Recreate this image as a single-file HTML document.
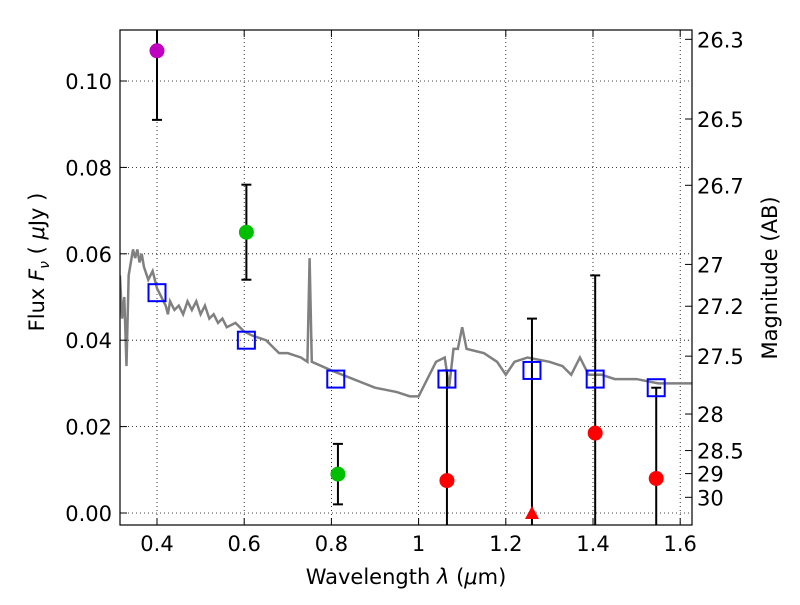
<!DOCTYPE html>
<html><head><meta charset="utf-8"><style>
body{margin:0;background:#fff;}
svg text{font-family:"DejaVu Sans","Liberation Sans",sans-serif;}
</style></head><body>
<svg id="c" width="800" height="600" xmlns="http://www.w3.org/2000/svg"></svg>
<script>
const xTicks=[0.4,0.6,0.8,1.0,1.2,1.4,1.6];
const xTickLabels=["0.4","0.6","0.8","1","1.2","1.4","1.6"];
const yTicks=[0,0.02,0.04,0.06,0.08,0.10];
const yTickLabels=["0.00","0.02","0.04","0.06","0.08","0.10"];
const magTicks=[26.3,26.5,26.7,27,27.2,27.5,28,28.5,29,30];
const magLabels=["26.3","26.5","26.7","27","27.2","27.5","28","28.5","29","30"];
const specWave=[0.315,0.32,0.325,0.33,0.335,0.34,0.345,0.35,0.355,0.36,0.365,0.37,0.38,0.39,0.40,0.41,0.42,0.425,0.43,0.44,0.45,0.46,0.47,0.48,0.49,0.5,0.51,0.52,0.53,0.54,0.55,0.56,0.58,0.60,0.62,0.65,0.68,0.70,0.73,0.745,0.75,0.755,0.80,0.85,0.90,0.95,0.98,1.0,1.02,1.04,1.06,1.07,1.08,1.09,1.10,1.11,1.15,1.18,1.20,1.22,1.25,1.3,1.33,1.35,1.37,1.39,1.42,1.45,1.5,1.55,1.6,1.627];
const specFlux=[0.055,0.045,0.05,0.034,0.055,0.058,0.061,0.059,0.061,0.058,0.06,0.057,0.054,0.056,0.052,0.050,0.048,0.046,0.049,0.047,0.048,0.046,0.049,0.047,0.049,0.046,0.048,0.045,0.046,0.044,0.045,0.043,0.044,0.042,0.041,0.040,0.037,0.037,0.036,0.035,0.059,0.035,0.033,0.031,0.029,0.028,0.027,0.027,0.031,0.035,0.036,0.029,0.038,0.038,0.043,0.038,0.037,0.035,0.032,0.035,0.036,0.035,0.034,0.032,0.036,0.032,0.032,0.031,0.031,0.030,0.030,0.030];
const obsWave=[0.4,0.605,0.815,1.065,1.26,1.405,1.545];
const obsFlux=[0.107,0.065,0.009,0.0075,0.0,0.0185,0.008];
const obsErrLo=[0.091,0.054,0.002,-0.01,-0.01,-0.01,-0.01];
const obsErrHi=[0.12,0.076,0.016,0.033,0.045,0.055,0.029];
const obsColor=["#bf00bf","#00bf00","#00bf00","#ff0000","#ff0000","#ff0000","#ff0000"];
const obsShape=["o","o","o","o","t","o","o"];
const modelWave=[0.4,0.605,0.81,1.065,1.26,1.405,1.545];
const modelFlux=[0.051,0.040,0.031,0.031,0.033,0.031,0.029];

const L=120,R=692,T=30,B=525;
const X=v=>157+(v-0.4)*436;
const Y=v=>513-v*4320;
const svg=document.getElementById('c');
const NS="http://www.w3.org/2000/svg";
function mk(t,a,p){const e=document.createElementNS(NS,t);for(const k in a)e.setAttribute(k,a[k]);(p||svg).appendChild(e);return e;}
const clip=mk('clipPath',{id:'pc'});mk('rect',{x:L,y:T,width:R-L,height:B-T},clip);
const g=mk('g',{'clip-path':'url(#pc)'});
xTicks.forEach((t,i)=>{const l=mk('line',{x1:X(t),x2:X(t),y1:T,y2:B,stroke:'#000','stroke-dasharray':'1,3','stroke-width':0.8},g);

const tx=mk('text',{x:X(t),y:B+26,'font-size':21,'text-anchor':'middle'});tx.textContent=xTickLabels[i];

mk('line',{x1:X(t),x2:X(t),y1:B,y2:B-7,stroke:'#000'});mk('line',{x1:X(t),x2:X(t),y1:T,y2:T+7,stroke:'#000'});});
yTicks.forEach((t,i)=>{const l=mk('line',{x1:L,x2:R,y1:Y(t),y2:Y(t),stroke:'#000','stroke-dasharray':'1,3','stroke-width':0.8},g);

const tx=mk('text',{x:L-8,y:Y(t)+8,'font-size':21,'text-anchor':'end'});tx.textContent=yTickLabels[i];

mk('line',{x1:L,x2:L+7,y1:Y(t),y2:Y(t),stroke:'#000'});});
magTicks.forEach((m,i)=>{const f=Math.pow(10,(23.9-m)/2.5);const y=Y(f);
mk('line',{x1:R,x2:R-7,y1:y,y2:y,stroke:'#000'});
const tx=mk('text',{x:R+5,y:y+8,'font-size':21});tx.textContent=magLabels[i];
});
const sp=mk('polyline',{points:specWave.map((w,i)=>X(w)+','+Y(specFlux[i])).join(' '),fill:'none',stroke:'#808080','stroke-width':2.5},g);

obsWave.forEach((w,i)=>{const x=X(w);
const e=mk('line',{x1:x,x2:x,y1:Y(obsErrHi[i]),y2:Y(obsErrLo[i]),stroke:'#000','stroke-width':2},g);

[obsErrHi[i],obsErrLo[i]].forEach(v=>mk('line',{x1:x-5,x2:x+5,y1:Y(v),y2:Y(v),stroke:'#000','stroke-width':2},g));});
modelWave.forEach((w,i)=>{const s=mk('rect',{x:X(w)-8.5,y:Y(modelFlux[i])-8.5,width:17,height:17,fill:'none',stroke:'#0000ff','stroke-width':2},g);
});
obsWave.forEach((w,i)=>{const x=X(w),y=Y(obsFlux[i]);let e;
if(obsShape[i]==='t'){e=mk('polygon',{points:`${x-7},${y+6} ${x+7},${y+6} ${x},${y-7}`,fill:obsColor[i]},g);}
else e=mk('circle',{cx:x,cy:y,r:7.5,fill:obsColor[i]},g);
});
const fr=mk('rect',{x:L,y:T,width:R-L,height:B-T,fill:'none',stroke:'#000','stroke-width':1.2});

const xl=mk('text',{x:406,y:584,'font-size':21,'text-anchor':'middle'});xl.innerHTML='Wavelength  <tspan font-style="italic">λ</tspan> (<tspan font-style="italic">μ</tspan>m)';

const yl=mk('text',{x:0,y:0,'font-size':21,'text-anchor':'middle',transform:'translate(44,262) rotate(-90)'});yl.innerHTML='Flux  <tspan font-style="italic">F</tspan><tspan font-style="italic" font-size="14" dy="5">ν</tspan><tspan dy="-5">  (  </tspan><tspan font-style="italic">μ</tspan>Jy )';

const ml=mk('text',{x:0,y:0,'font-size':21,'text-anchor':'middle',transform:'translate(777,278) rotate(-90)'});ml.textContent='Magnitude (AB)';

</script>
</body></html>
